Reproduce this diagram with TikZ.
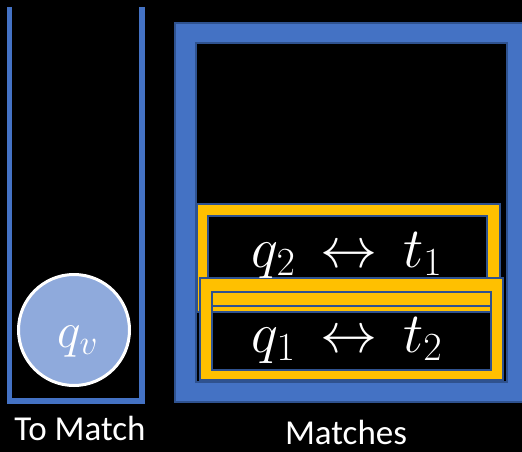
\RequirePackage{fix-cm}
\documentclass[tikz,border=0pt]{standalone}
\usepackage{fontspec}
\setmainfont{Carlito}
\definecolor{accentblue}{HTML}{4472C4}
\definecolor{edgeblue}{HTML}{2F528F}
\definecolor{matchgold}{HTML}{FFC000}
\definecolor{nodeblue}{HTML}{8FAADC}
\tikzset{
  frame/.style={fill=#1, draw=edgeblue, line width=1.2pt, even odd rule},
  caption/.style={anchor=base, inner sep=0pt, text=white, font=\fontsize{35}{40}\selectfont},
  pair/.style={anchor=base, inner sep=0pt, text=white, font=\fontsize{57}{60}\selectfont}
}

\begin{document}
\begin{tikzpicture}[x=1pt, y=-1pt]
\fill[black] (0,0) rectangle (522,452);
\useasboundingbox (0,0) rectangle (522,452);
\draw[accentblue, line width=5.5pt] (9.5,7) -- (9.5,401) -- (142,401) -- (142,7);
\node[circle, draw=white, line width=3pt, fill=nodeblue, minimum size=111pt] (qv) at (74,330) {};
\node[pair, font=\fontsize{50}{55}\selectfont] (qvlabel) at (78,347) {$q_v$};
\node[caption] (tomatch) at (80,440) {To Match};
\path[frame=accentblue] (175,23) rectangle (527,402) (196,43) rectangle (507,382);
\path[frame=matchgold] (197,204) rectangle (500,312) (208,216) rectangle (487,300);
\path[frame=matchgold] (200,278) rectangle (503,380) (212,292) rectangle (491,370);
\path[frame=matchgold] (212,292) rectangle (491,306);
\node[pair] (second) at (347,267) {$q_2 \,\leftrightarrow\, t_1$};
\node[pair] (first) at (347,352) {$q_1 \,\leftrightarrow\, t_2$};
\node[caption] (matches) at (346,444) {Matches};
\end{tikzpicture}
\end{document}
